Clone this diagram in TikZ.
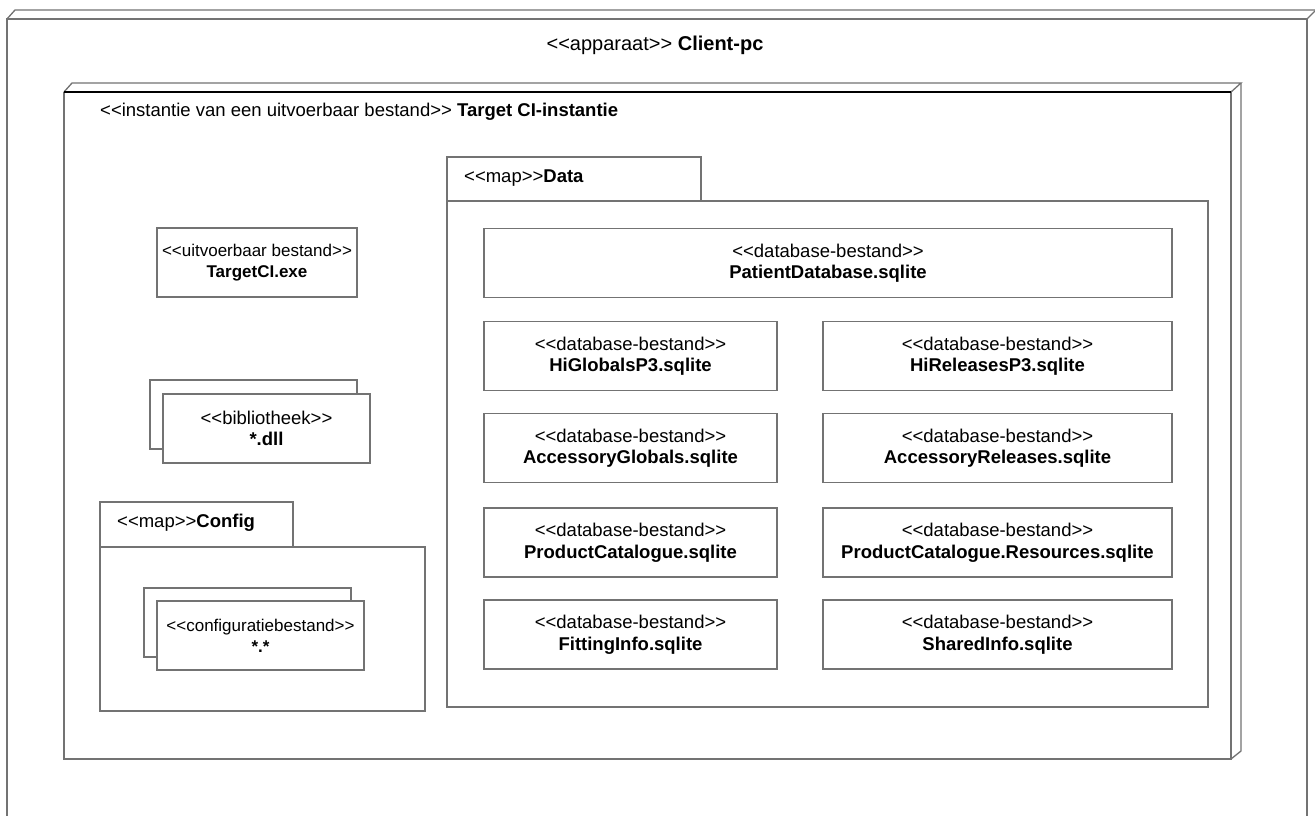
\documentclass[tikz,border=0pt]{standalone}
\usepackage{fontspec}
\setmainfont{Liberation Sans}[Ligatures=TeXOff]
\begin{document}
\begin{tikzpicture}[x=1pt,y=-1pt,
  edge/.style={draw=black!55, line width=1.3pt},
  frontedge/.style={draw=black, line width=2pt},
  artbox/.style={edge, fill=white, rectangle, inner sep=0pt, align=center, font=\fontsize{18.5}{21.5}\selectfont},
  smallbox/.style={artbox, font=\fontsize{17}{21}\selectfont},
  lbl/.style={inner sep=0pt, font=\fontsize{18.5}{21.5}\selectfont},
  ]
\useasboundingbox (0,0) rectangle (1315,815);
\clip (0,0) rectangle (1315,815);
\fill[white] (0,0) rectangle (1315,815);
% outer device
\draw[edge] (7,830) -- (7,19) -- (1307,19) -- (1307,830);
\draw[edge] (7,19) -- (15,10) -- (1316,10);
\draw[edge] (1307,19) -- (1316,10);
\node[lbl, font=\fontsize{20}{24}\selectfont] (clientpc) at (655,45) {<<apparaat>> \textbf{Client-pc}};
% inner node (executable instance)
\draw[edge] (1231,92) -- (1231,759) -- (64,759) -- (64,92);
\draw[edge] (64,92) -- (72,83) -- (1241,83) -- (1231,92);
\draw[edge] (1241,83) -- (1241,751) -- (1231,759);
\draw[frontedge] (64,92) -- (1231,92);
\node[lbl, anchor=west] (target) at (100,112) {<<instantie van een uitvoerbaar bestand>> \textbf{Target CI-instantie}};
% exe
\node[smallbox, minimum width=200pt, minimum height=69pt] (exe) at (257,262.5) {<<uitvoerbaar bestand>>\\\textbf{TargetCI.exe}};
% dll (stacked)
\node[artbox, minimum width=207pt, minimum height=69pt] (dllback) at (253.5,414.5) {};
\node[artbox, minimum width=207pt, minimum height=69pt] (dll) at (266.5,428.5) {<<bibliotheek>>\\\textbf{*.dll}};
% Config package
\node[artbox, minimum width=193pt, minimum height=45pt] (cfgtab) at (196.5,524.5) {};
\node[lbl, anchor=west] (cfgtitle) at (117,523) {<<map>>\textbf{Config}};
\node[artbox, minimum width=325pt, minimum height=164pt] (cfgbody) at (262.5,629) {};
\node[artbox, minimum width=207pt, minimum height=69pt] (cfgback) at (247.5,622.5) {};
\node[smallbox, minimum width=207pt, minimum height=69pt] (cfgfile) at (260.5,635.5) {<<configuratiebestand>>\\\textbf{*.*}};
% Data package
\node[artbox, minimum width=254pt, minimum height=44pt] (datatab) at (574,179) {};
\node[lbl, anchor=west] (datatitle) at (464,178) {<<map>>\textbf{Data}};
\node[artbox, minimum width=761pt, minimum height=506pt] (databody) at (827.5,454) {};
% databases
\node[artbox, minimum width=688pt, minimum height=69pt] (patient) at (828,263) {<<database-bestand>>\\\textbf{PatientDatabase.sqlite}};
\node[artbox, minimum width=293pt, minimum height=69pt] (higlob) at (630.5,356) {<<database-bestand>>\\\textbf{HiGlobalsP3.sqlite}};
\node[artbox, minimum width=349pt, minimum height=69pt] (hirel) at (997.5,356) {<<database-bestand>>\\\textbf{HiReleasesP3.sqlite}};
\node[artbox, minimum width=293pt, minimum height=69pt] (accglob) at (630.5,448) {<<database-bestand>>\\\textbf{AccessoryGlobals.sqlite}};
\node[artbox, minimum width=349pt, minimum height=69pt] (accrel) at (997.5,448) {<<database-bestand>>\\\textbf{AccessoryReleases.sqlite}};
\node[artbox, minimum width=293pt, minimum height=69pt] (prodcat) at (630.5,542.5) {<<database-bestand>>\\\textbf{ProductCatalogue.sqlite}};
\node[artbox, minimum width=349pt, minimum height=69pt] (prodres) at (997.5,542.5) {<<database-bestand>>\\\textbf{ProductCatalogue.Resources.sqlite}};
\node[artbox, minimum width=293pt, minimum height=69pt] (fitting) at (630.5,634.5) {<<database-bestand>>\\\textbf{FittingInfo.sqlite}};
\node[artbox, minimum width=349pt, minimum height=69pt] (shared) at (997.5,634.5) {<<database-bestand>>\\\textbf{SharedInfo.sqlite}};
\end{tikzpicture}
\end{document}
